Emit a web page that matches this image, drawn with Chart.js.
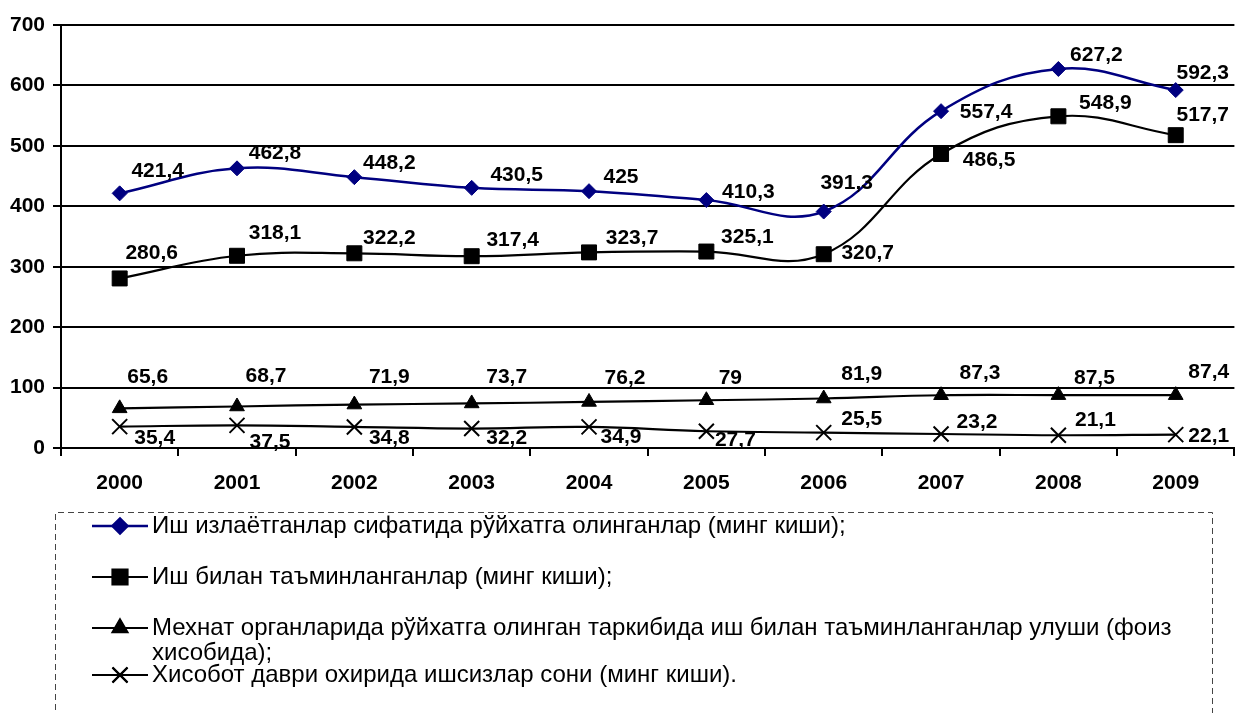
<!DOCTYPE html>
<html>
<head>
<meta charset="utf-8">
<script src="https://cdn.jsdelivr.net/npm/chart.js@4.4.0/dist/chart.umd.min.js"></script>
<style>
  html, body { margin: 0; padding: 0; background: #fff; overflow: hidden; }
  #wrap { width: 1237px; height: 713px; overflow: hidden; }
  canvas { display: block; }
</style>
</head>
<body>
<!-- холст чуть шире окна: правый край сетки уходит к самой границе, как в оригинале -->
<div id="wrap"><canvas id="chart" width="1247" height="713"></canvas></div>
<script>
// --- data ---
const years = ['2000', '2001', '2002', '2003', '2004', '2005', '2006', '2007', '2008', '2009'];
const registered = [421.4, 462.8, 448.2, 430.5, 425, 410.3, 391.3, 557.4, 627.2, 592.3];
const employed = [280.6, 318.1, 322.2, 317.4, 323.7, 325.1, 320.7, 486.5, 548.9, 517.7];
const employedShare = [65.6, 68.7, 71.9, 73.7, 76.2, 79, 81.9, 87.3, 87.5, 87.4];
const unemployed = [35.4, 37.5, 34.8, 32.2, 34.9, 27.7, 25.5, 23.2, 21.1, 22.1];
const yTicks = [0, 100, 200, 300, 400, 500, 600, 700];

const seriesNames = [
    ['Иш излаётганлар сифатида рўйхатга олинганлар (минг киши);'],
    ['Иш билан таъминланганлар (минг киши);'],
    ['Мехнат органларида рўйхатга олинган таркибида иш билан таъминланганлар улуши (фоиз', 'хисобида);'],
    ['Хисобот даври охирида ишсизлар сони (минг киши).']
];

// где стоит подпись относительно точки (dx, dy)
const labelShift = [
    [[38, -22], [38, -15], [35, -14], [45, -13], [32, -14], [42, -8], [23, -28], [45, 1], [38, -14], [27, -17]],
    [[32, -25], [38, -23], [35, -15], [41, -16], [43, -14], [41, -14], [44, -1], [48, 6], [47, -13], [27, -20]],
    [[28, -31], [29, -30], [35, -27], [35, -26], [36, -24], [24, -22], [38, -24], [39, -22], [36, -17], [33, -23]],
    [[35, 12], [33, 17], [35, 11], [35, 10], [32, 10], [29, 9], [38, -13], [36, -12], [37, -15], [33, 2]]
];

const FONT = "'Liberation Sans', Arial, sans-serif";
const NAVY = '#000080';

function fmt(v) {
    return String(v).replace('.', ',');
}

// --- подписи значений ---
const valueLabels = {
    id: 'valueLabels',
    afterDatasetsDraw(chart) {
        const ctx = chart.ctx;
        ctx.save();
        ctx.font = 'bold 21px ' + FONT;
        ctx.fillStyle = '#000';
        ctx.textAlign = 'center';
        ctx.textBaseline = 'middle';
        chart.data.datasets.forEach((ds, di) => {
            chart.getDatasetMeta(di).data.forEach((pt, i) => {
                const s = labelShift[di][i];
                ctx.fillText(fmt(ds.data[i]), pt.x + s[0], pt.y + s[1]);
            });
        });
        ctx.restore();
    }
};

// --- легенда в пунктирной рамке ---
const boxLegend = {
    id: 'boxLegend',
    afterDraw(chart) {
        const ctx = chart.ctx;
        ctx.save();
        ctx.strokeStyle = '#444';
        ctx.lineWidth = 1;
        ctx.setLineDash([6, 4]);
        ctx.beginPath();
        ctx.moveTo(55.5, 730);
        ctx.lineTo(55.5, 512.5);
        ctx.lineTo(1212.5, 512.5);
        ctx.lineTo(1212.5, 730);
        ctx.stroke();
        ctx.setLineDash([]);

        ctx.font = '24px ' + FONT;
        ctx.textAlign = 'left';
        ctx.textBaseline = 'middle';
        let y = 526;
        chart.data.datasets.forEach((ds, di) => {
            ctx.strokeStyle = ds.borderColor;
            ctx.lineWidth = ds.borderWidth;
            ctx.beginPath();
            ctx.moveTo(92, y);
            ctx.lineTo(148, y);
            ctx.stroke();
            Chart.helpers.drawPoint(ctx, {
                pointStyle: ds.pointStyle,
                radius: ds.pointRadius,
                borderWidth: ds.pointBorderWidth,
                rotation: 0
            }, 120, y);
            ctx.fillStyle = ds.pointBackgroundColor;
            ctx.strokeStyle = ds.pointBorderColor;
            ctx.lineWidth = ds.pointBorderWidth;
            ctx.fill();
            ctx.stroke();

            ctx.fillStyle = '#000';
            const lines = seriesNames[di];
            lines.forEach((t, li) => ctx.fillText(t, 152, y + li * 25));
            y += (lines.length - 1) * 25 + (lines.length > 1 ? 22 : 51);
        });
        ctx.restore();
    }
};

function series(data, color, style, radius, width) {
    return {
        data: data,
        borderColor: color,
        borderWidth: width,
        backgroundColor: color,
        pointStyle: style,
        pointRadius: radius,
        pointHoverRadius: radius,
        pointBackgroundColor: color,
        pointBorderColor: color,
        pointBorderWidth: style === 'crossRot' ? 2 : 1,
        tension: 0.4,
        fill: false
    };
}

new Chart(document.getElementById('chart'), {
    type: 'line',
    data: {
        labels: years,
        datasets: [
            series(registered, NAVY, 'rectRot', 7.5, 2.5),
            series(employed, '#000', 'rect', 10.6, 2.2),
            series(employedShare, '#000', 'triangle', 8.5, 2.2),
            series(unemployed, '#000', 'crossRot', 10.6, 2.2)
        ]
    },
    options: {
        responsive: false,
        animation: false,
        layout: { padding: { top: 25, right: 3, left: 0, bottom: 0 } },
        plugins: {
            legend: { display: false },
            tooltip: { enabled: false }
        },
        scales: {
            x: {
                offset: true,
                grid: {
                    offset: true,
                    drawOnChartArea: false,
                    drawTicks: true,
                    tickLength: 8,
                    color: '#000',
                    lineWidth: 2
                },
                border: { display: true, color: '#000', width: 2 },
                ticks: {
                    color: '#000',
                    font: { family: FONT, size: 21, weight: 'bold' },
                    padding: 15,
                    maxRotation: 0
                },
                afterFit(scale) { scale.height = 265; }
            },
            y: {
                min: 0,
                max: 700,
                afterBuildTicks(scale) { scale.ticks = yTicks.map(v => ({ value: v })); },
                grid: {
                    color: '#000',
                    lineWidth: 2,
                    tickLength: 8
                },
                border: { display: true, color: '#000', width: 2 },
                ticks: {
                    color: '#000',
                    font: { family: FONT, size: 21, weight: 'bold' },
                    padding: 8
                },
                afterFit(scale) { scale.width = 61; }
            }
        }
    },
    plugins: [valueLabels, boxLegend]
});
</script>
</body>
</html>
